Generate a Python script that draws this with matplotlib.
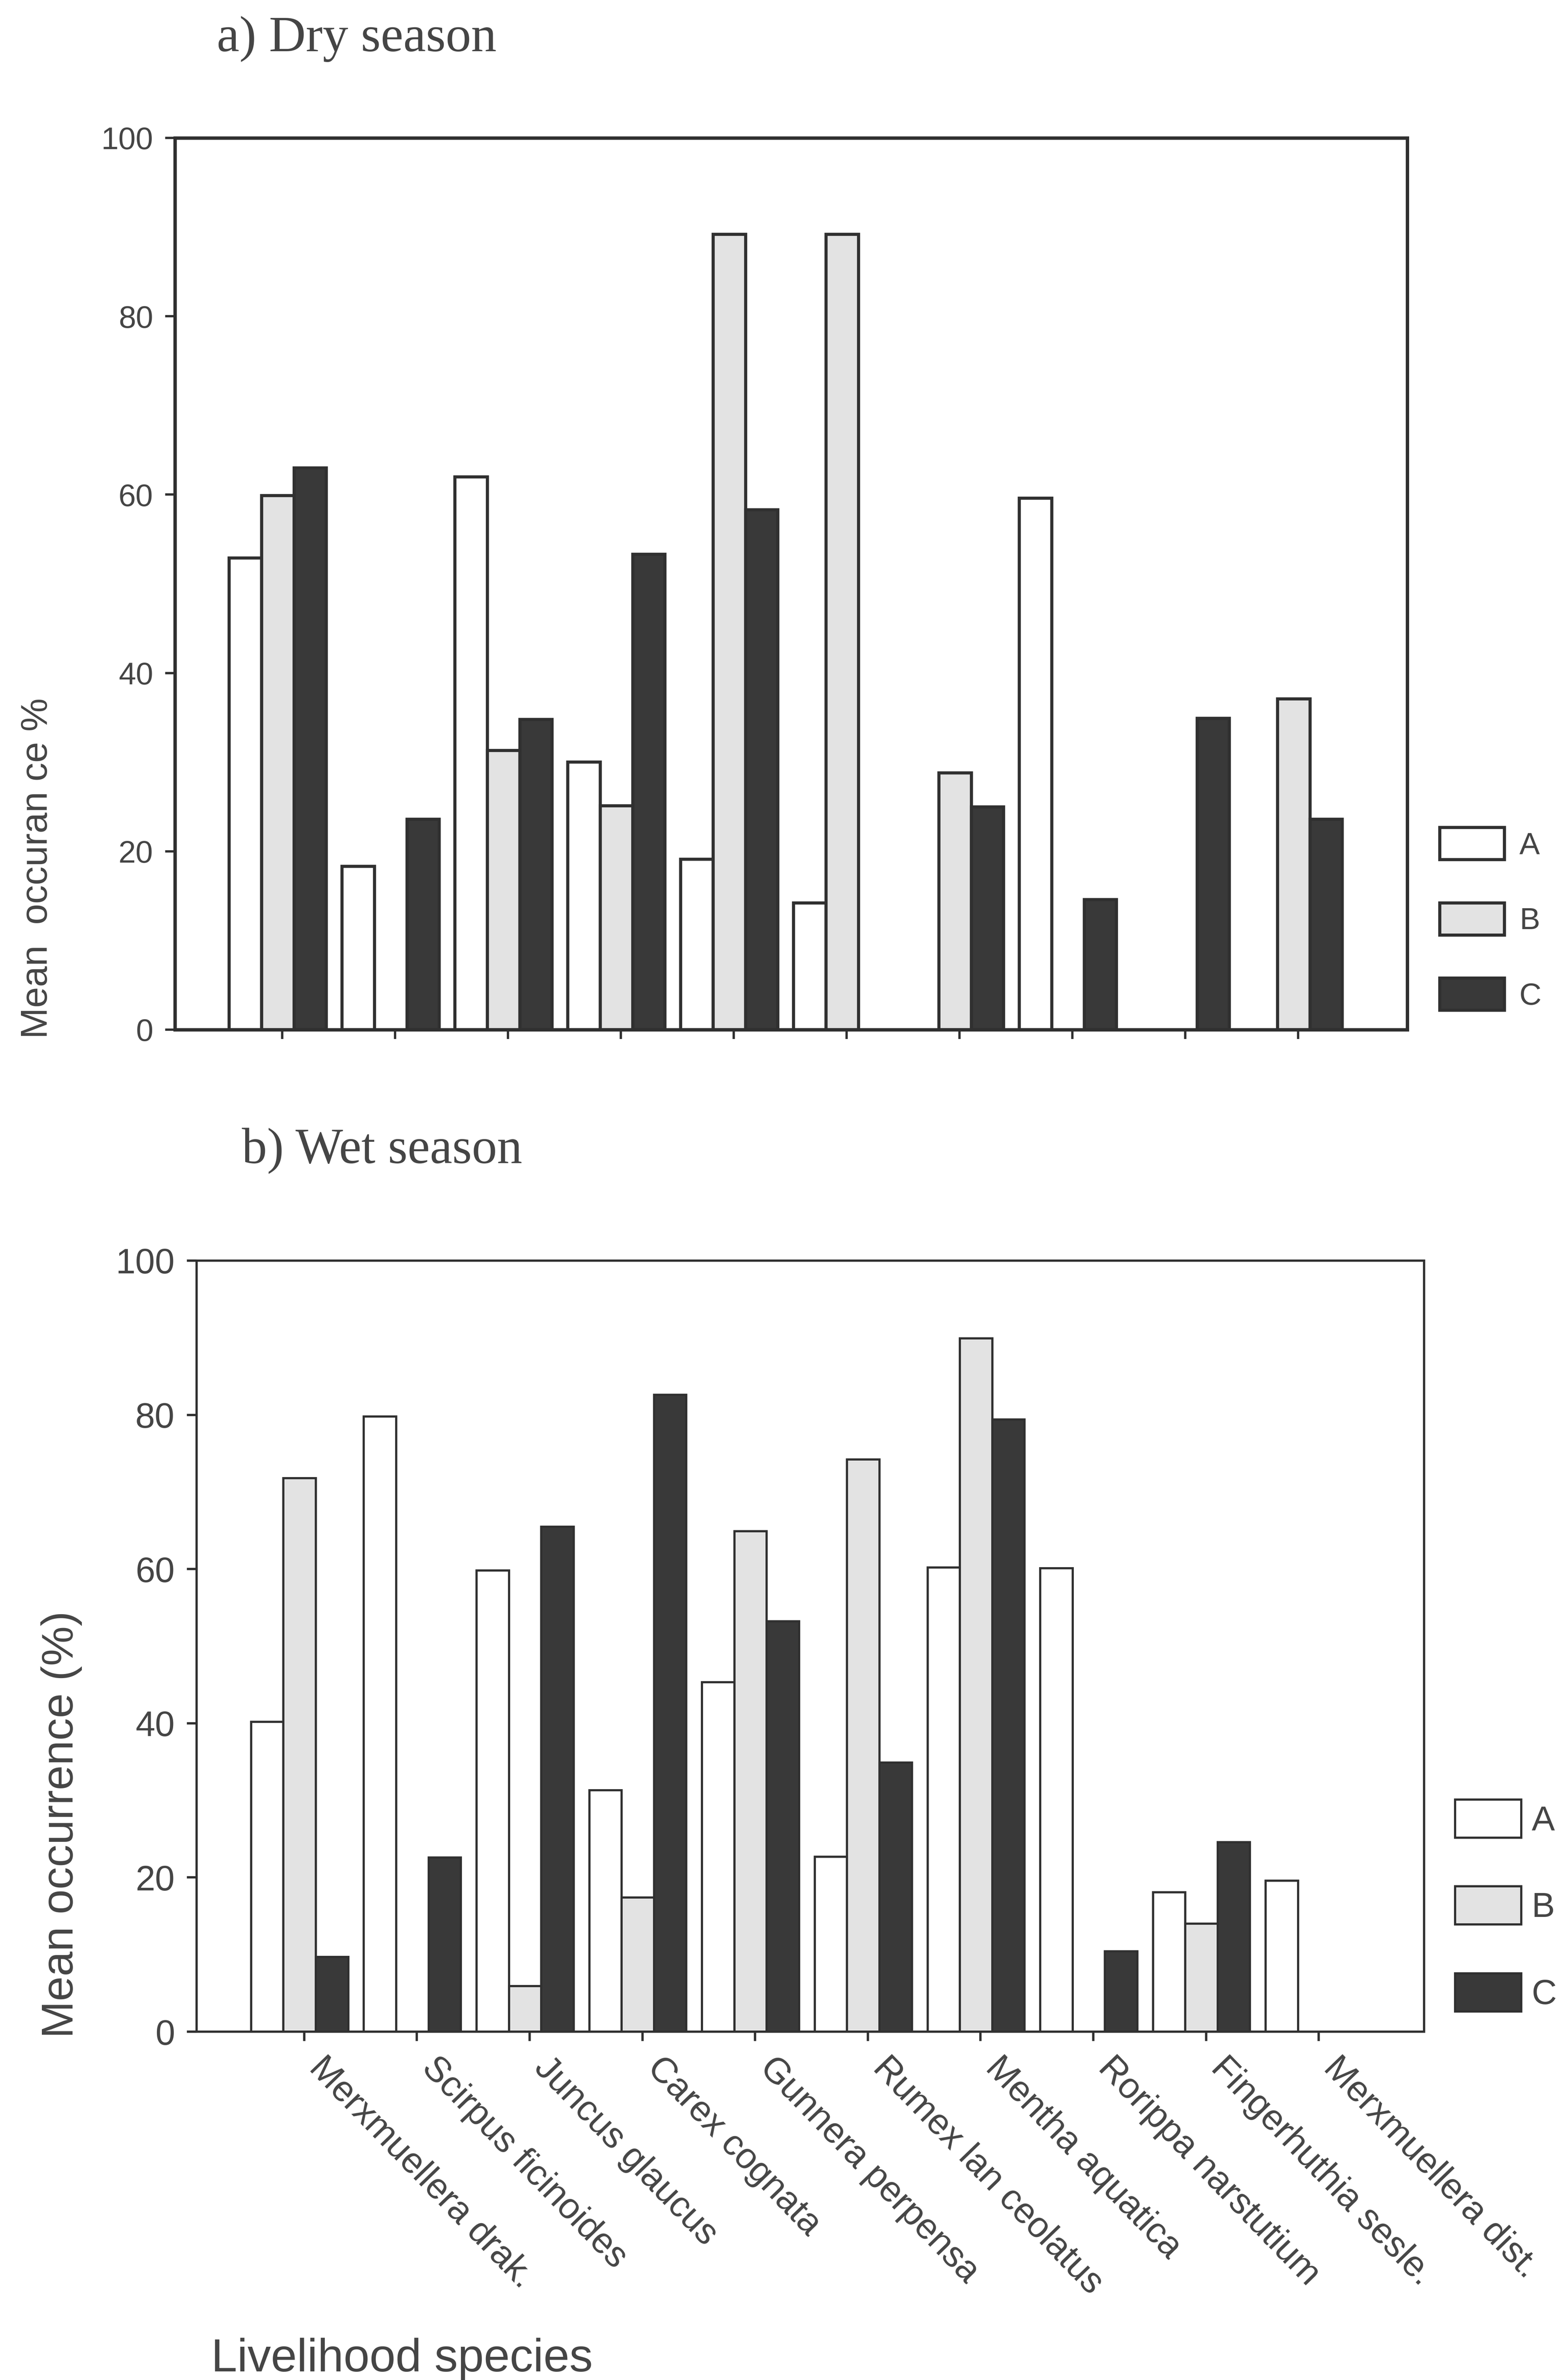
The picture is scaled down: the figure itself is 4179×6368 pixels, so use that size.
import numpy as np
import matplotlib
matplotlib.use("Agg")
import matplotlib.pyplot as plt
from matplotlib.patches import Patch
from matplotlib.transforms import ScaledTranslation

plt.rcParams["font.family"] = ["Liberation Sans", "DejaVu Sans"]

# ---- data -------------------------------------------------------------
species = [
    "Merxmuellera drak.", "Scirpus ficinoides", "Juncus glaucus",
    "Carex cognata", "Gunnera perpensa", "Rumex lan ceolatus",
    "Mentha aquatica", "Rorippa narstutium", "Fingerhuthia sesle.",
    "Merxmuellera dist.",
]
groups = ["A", "B", "C"]

# a) dry season, mean occurrence (%)
dry_A = [52.9, 18.3, 62.0, 30.0, 19.1, 14.2, 0.0, 59.6, 0.0, 0.0]
dry_B = [59.9, 0.0, 31.3, 25.1, 89.2, 89.2, 28.8, 0.0, 0.0, 37.1]
dry_C = [63.0, 23.6, 34.8, 53.3, 58.3, 0.0, 25.0, 14.6, 34.9, 23.6]

# b) wet season, mean occurrence (%)
wet_A = [40.2, 79.8, 59.8, 31.3, 45.3, 22.7, 60.2, 60.1, 18.1, 19.6]
wet_B = [71.8, 0.0, 5.9, 17.4, 64.9, 74.2, 89.9, 0.0, 14.0, 0.0]
wet_C = [9.7, 22.6, 65.5, 82.6, 53.2, 34.9, 79.4, 10.4, 24.6, 0.0]

yticks = [0, 20, 40, 60, 80, 100]

# ---- style --------------------------------------------------------------
fills = ["#ffffff", "#e3e3e3", "#393939"]
edge = "#303030"
text_col = "#454545"

W, H = 4179, 6368
fig = plt.figure(figsize=(W / 100, H / 100), dpi=100)


def box(l, t, r, b):
    return [l / W, 1 - b / H, (r - l) / W, (b - t) / H]


def draw(ax, series, bar_lw, spine_lw, tick_fs, xlim):
    x = np.arange(len(species))
    w = 0.287
    for k, vals in enumerate(series):
        bars = ax.bar(x - 0.04 + (k - 1) * w, vals, w, color=fills[k],
                      edgecolor=edge, linewidth=bar_lw, zorder=2)
        for b, v in zip(bars, vals):
            if v == 0:
                b.set_visible(False)
    ax.set_xlim(*xlim)
    ax.set_ylim(0, 100)
    ax.set_yticks(yticks)
    ax.set_xticks(x)
    for s in ax.spines.values():
        s.set_linewidth(spine_lw)
        s.set_color(edge)
    ax.tick_params(axis="y", direction="out", length=19, width=4.5,
                   color=edge, labelsize=tick_fs, labelcolor=text_col, pad=23)
    ax.tick_params(axis="x", direction="out", length=18, width=4.5,
                   color=edge)


ax1 = fig.add_axes(box(468, 369, 3765, 2755))
draw(ax1, [dry_A, dry_B, dry_C], 6.0, 6.5, 60, (-0.952, 9.966))
ax1.set_xticklabels([])

ax2 = fig.add_axes(box(526, 3373, 3810, 5436))
draw(ax2, [wet_A, wet_B, wet_C], 4.2, 4.3, 68, (-0.954, 9.934))
ax2.set_xticklabels(species, rotation=-46, ha="left", va="top",
                    rotation_mode="anchor", fontsize=69, color=text_col)
ax2.tick_params(axis="x", pad=19)
shift = ScaledTranslation(0.6, 0, fig.dpi_scale_trans)
for lab in ax2.get_xticklabels():
    lab.set_transform(lab.get_transform() + shift)

# ---- legends --------------------------------------------------------------
def legend(ax, anchor, fs, hl, hh, ls, tp, lw):
    handles = [Patch(facecolor=fills[k], edgecolor=edge, linewidth=lw)
               for k in range(3)]
    leg = ax.legend(handles, groups, loc="upper left", bbox_to_anchor=anchor,
                    bbox_transform=fig.transFigure, frameon=False,
                    borderpad=0, borderaxespad=0, fontsize=fs,
                    handlelength=hl, handleheight=hh, labelspacing=ls,
                    handletextpad=tp)
    for t in leg.get_texts():
        t.set_color(text_col)


legend(ax1, (3852 / W, 1 - 2214 / H), 59, 2.11, 1.24, 1.39, 0.49, 6.0)
legend(ax2, (3893 / W, 1 - 4815 / H), 67, 1.90, 1.31, 1.40, 0.30, 4.2)

# ---- titles and axis labels ------------------------------------------------
serif = ["Liberation Serif", "DejaVu Serif"]
fig.text(580 / W, 1 - 137 / H, "a) Dry season", family=serif, fontsize=98,
         color=text_col, ha="left", va="baseline")
fig.text(647 / W, 1 - 3112 / H, "b) Wet season", family=serif, fontsize=97,
         color=text_col, ha="left", va="baseline")

fig.text(100 / W, 1 - 2323 / H, "Mean  occuran ce %", rotation=90,
         fontsize=72, color=text_col, ha="center", va="center")
fig.text(165 / W, 1 - 4882 / H, "Mean occurrence (%)", rotation=90,
         fontsize=86, color=text_col, ha="center", va="center")
fig.text(565 / W, 1 - 6345 / H, "Livelihood species", fontsize=90,
         color=text_col, ha="left", va="baseline")

fig.savefig("out.png", dpi=100, facecolor="white")
